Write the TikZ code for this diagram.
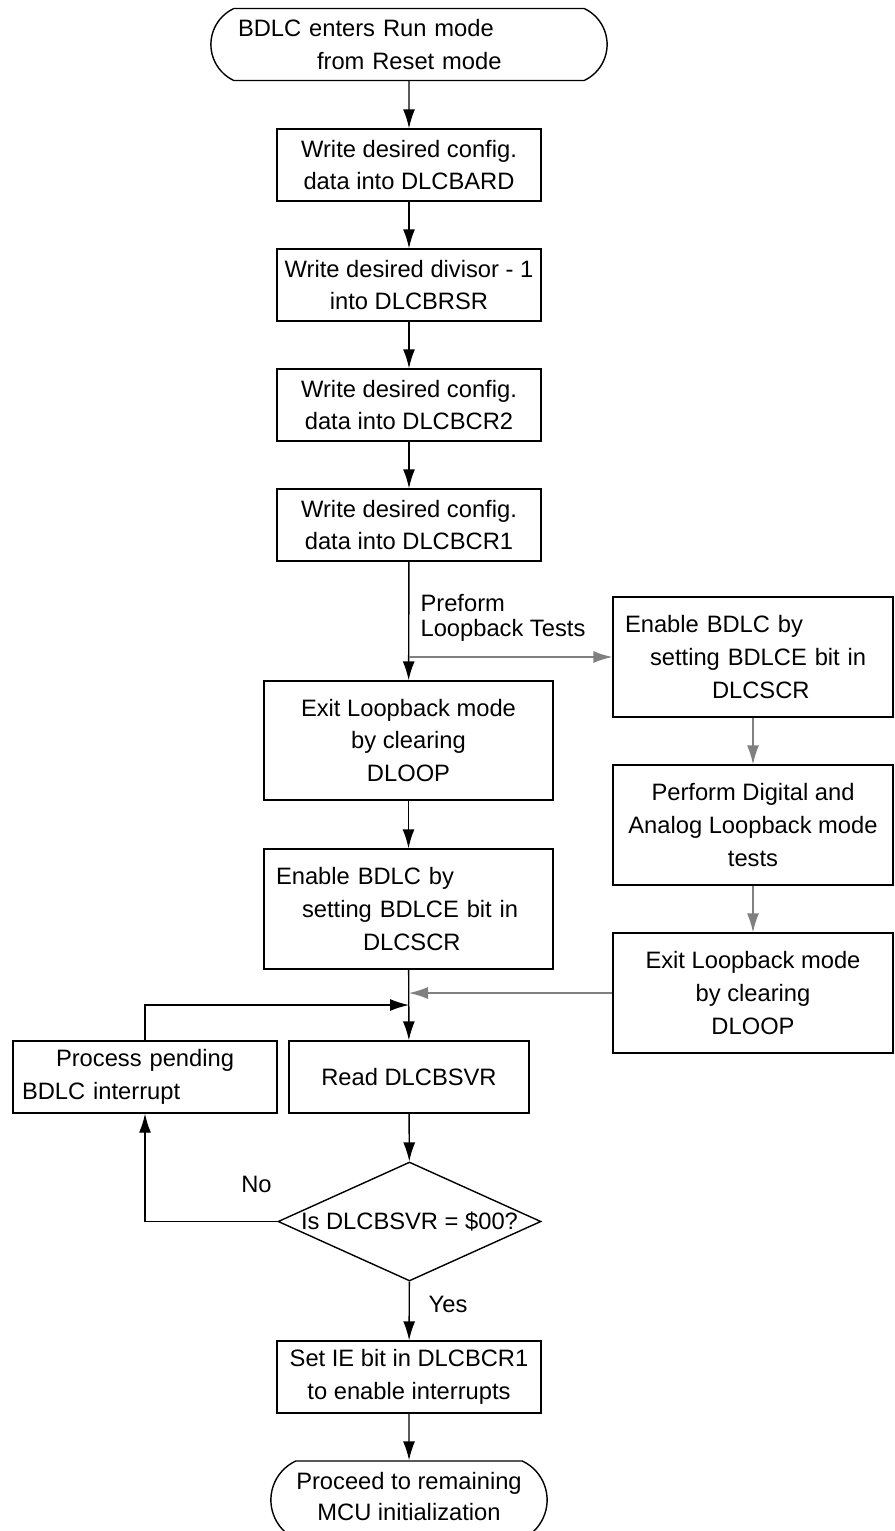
\documentclass[tikz,border=0pt]{standalone}
\usepackage{fontspec}
\setmainfont{Liberation Sans}
\usepackage{tikz}
\usetikzlibrary{calc, shapes.geometric, shapes.misc, positioning, arrows.meta}

\begin{document}
\begin{tikzpicture}[x=0.02cm, y=-0.02cm, line width=0.8pt,
    >={Latex[length=3.8mm,width=2.4mm]},
    every node/.style={font=\fontsize{13.5}{18.7}\selectfont},
    box/.style={draw, rectangle, minimum width=5.28cm, minimum height=1.44cm, align=center},
    tallbox/.style={box, minimum height=2.4cm},
    term/.style={draw, rounded rectangle, rounded rectangle arc length=130, minimum height=1.44cm, align=center},
    decide/.style={draw, diamond, minimum width=5.26cm, minimum height=2.38cm, inner sep=0pt},
    test/.style={->, draw=black!50, >={Latex[length=3.8mm,width=2.4mm,fill=black!50]}}]
    \useasboundingbox (0,0) rectangle (894,1531);

    \node[term, minimum width=8.16cm, text width=6.84cm, align=left] (start) at (409,44.5)
        {BDLC enters Run mode\\\hspace*{1.58cm}from Reset mode};
    \node[box] (cfgA) at (409,165) {Write desired config.\\data into DLCBARD};
    \node[box] (div)  at (409,285) {Write desired divisor - 1\\into DLCBRSR};
    \node[box] (cfgB) at (409,405) {Write desired config.\\data into DLCBCR2};
    \node[box] (cfgC) at (409,525) {Write desired config.\\data into DLCBCR1};

    \node[tallbox, minimum width=5.78cm, minimum height=2.38cm] (exitL) at (408.5,740.5)
        {Exit Loopback mode\\by clearing\\DLOOP};
    \node[tallbox, minimum width=5.78cm, text width=5.3cm, align=left] (enL) at (408.5,909)
        {Enable BDLC by\\\hspace*{0.52cm}setting BDLCE bit in\\\hspace*{1.74cm}DLCSCR};

    \node[tallbox, minimum width=5.6cm, text width=5.12cm, align=left] (enR) at (753,657)
        {Enable BDLC by\\\hspace*{0.5cm}setting BDLCE bit in\\\hspace*{1.74cm}DLCSCR};
    \node[tallbox, minimum width=5.6cm] (perf) at (753,825)
        {Perform Digital and\\Analog Loopback mode\\tests};
    \node[tallbox, minimum width=5.6cm] (exitR) at (753,993)
        {Exit Loopback mode\\by clearing\\DLOOP};

    \node[box, text width=4.92cm, align=left] (proc) at (145,1077)
        {\hspace*{0.68cm}Process pending\\BDLC interrupt};
    \node[box, minimum width=4.8cm] (read) at (409,1077) {Read DLCBSVR};
    \node[decide] (dec) at (409.5,1221.5) {\makebox[0pt]{Is DLCBSVR = \$00?}};
    \node[box] (setie) at (409,1377) {Set IE bit in DLCBCR1\\to enable interrupts};
    \node[term, minimum width=5.76cm, minimum height=1.56cm] (stop) at (409,1500)
        {\raisebox{4pt}{\shortstack{Proceed to remaining\\[2pt]MCU initialization}}};

    \node[align=left, anchor=west, font=\fontsize{13.5}{14.5}\selectfont] (pre) at (414,618)
        {Preform\\Loopback Tests};
    \node (no)  at (256.5,1184) {No};
    \node (yes) at (448,1304) {Yes};

    \coordinate (br) at (409,657);
    \coordinate (mg) at (409,993);
    \coordinate (back) at (409,1005);

    \draw[->] (start) -- (cfgA);
    \draw[->] (cfgA) -- (div);
    \draw[->] (div) -- (cfgB);
    \draw[->] (cfgB) -- (cfgC);
    \draw[->] (cfgC) -- (exitL);
    \draw[test] (br) -- (enR);
    \draw[test] (enR) -- (perf);
    \draw[test] (perf) -- (exitR);
    \draw[test] (exitR) -- (mg);
    \draw[->] (exitL) -- (enL);
    \draw[->] (enL) -- (read);
    \draw[->] (proc) |- (back);
    \draw[->] (read) -- (dec);
    \draw[->] (dec) -| (proc);
    \draw[->] (dec) -- (setie);
    \draw[->] (setie) -- (stop);
\end{tikzpicture}
\end{document}
